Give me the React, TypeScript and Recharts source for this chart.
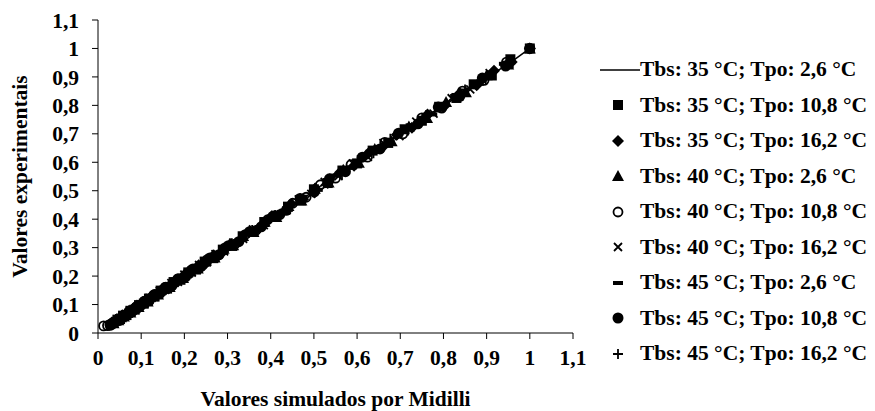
import { ScatterChart, Scatter, XAxis, YAxis, Legend } from 'recharts'

const FONT = '"Liberation Serif", "Times New Roman", serif'
const FS = 21.5

// axis ticks (0 .. 1,1)
const ticks = [0, 0.1, 0.2, 0.3, 0.4, 0.5, 0.6, 0.7, 0.8, 0.9, 1, 1.1]

const s35_26: [number, number][] = [
  [1, 1], [0.962, 0.958], [0.925, 0.921], [0.889, 0.886], [0.846, 0.851], [0.806, 0.802], [0.768, 0.771],
  [0.731, 0.727], [0.694, 0.699], [0.66, 0.655], [0.627, 0.631], [0.594, 0.59], [0.563, 0.566], [0.534, 0.529],
  [0.505, 0.509], [0.478, 0.474], [0.452, 0.455], [0.427, 0.423], [0.403, 0.407], [0.38, 0.376], [0.358, 0.361],
  [0.337, 0.333], [0.317, 0.32], [0.298, 0.294], [0.28, 0.283], [0.262, 0.258], [0.246, 0.249], [0.23, 0.226],
  [0.215, 0.218], [0.2, 0.197], [0.187, 0.19], [0.174, 0.17], [0.161, 0.164], [0.149, 0.146], [0.138, 0.141],
  [0.127, 0.124], [0.117, 0.12], [0.107, 0.104], [0.098, 0.101], [0.089, 0.086], [0.081, 0.083], [0.073, 0.07],
  [0.066, 0.068], [0.059, 0.057], [0.053, 0.055], [0.047, 0.045], [0.042, 0.043],
]
const s35_108: [number, number][] = [
  [1, 1], [0.955, 0.962], [0.912, 0.905], [0.87, 0.874], [0.83, 0.826], [0.79, 0.795], [0.75, 0.746],
  [0.71, 0.716], [0.672, 0.668], [0.636, 0.641], [0.6, 0.596], [0.566, 0.571], [0.532, 0.527], [0.5, 0.505],
  [0.47, 0.466], [0.44, 0.444], [0.412, 0.408], [0.385, 0.39], [0.36, 0.355], [0.335, 0.34], [0.311, 0.306],
  [0.289, 0.293], [0.267, 0.263], [0.247, 0.251], [0.227, 0.223], [0.209, 0.213], [0.191, 0.187], [0.175, 0.179],
  [0.16, 0.156], [0.145, 0.149], [0.131, 0.128], [0.118, 0.121], [0.106, 0.103], [0.095, 0.098], [0.085, 0.082],
  [0.075, 0.078], [0.066, 0.063], [0.058, 0.061], [0.051, 0.049], [0.045, 0.047],
]
const s35_162: [number, number][] = [
  [1, 1], [0.958, 0.952], [0.917, 0.922], [0.877, 0.871], [0.838, 0.843], [0.8, 0.794], [0.763, 0.768],
  [0.727, 0.721], [0.692, 0.697], [0.658, 0.652], [0.625, 0.63], [0.593, 0.588], [0.562, 0.567], [0.532, 0.527],
  [0.503, 0.508], [0.475, 0.47], [0.448, 0.453], [0.422, 0.417], [0.397, 0.402], [0.373, 0.368], [0.35, 0.355],
  [0.328, 0.323], [0.307, 0.312], [0.287, 0.282], [0.268, 0.273], [0.25, 0.245], [0.233, 0.238], [0.216, 0.212],
  [0.2, 0.205], [0.185, 0.181], [0.171, 0.175], [0.157, 0.153], [0.144, 0.148], [0.132, 0.128], [0.12, 0.124],
  [0.109, 0.106], [0.099, 0.102], [0.089, 0.087], [0.08, 0.083], [0.072, 0.069], [0.064, 0.066], [0.057, 0.055],
  [0.051, 0.053],
]
const s40_26: [number, number][] = [
  [1, 1], [0.95, 0.944], [0.9, 0.906], [0.852, 0.846], [0.806, 0.812], [0.762, 0.756], [0.72, 0.726],
  [0.68, 0.674], [0.641, 0.647], [0.604, 0.598], [0.568, 0.574], [0.534, 0.529], [0.502, 0.507], [0.471, 0.466],
  [0.441, 0.446], [0.413, 0.408], [0.386, 0.391], [0.36, 0.355], [0.336, 0.341], [0.313, 0.308], [0.291, 0.296],
  [0.27, 0.265], [0.25, 0.255], [0.231, 0.227], [0.214, 0.218], [0.197, 0.193], [0.181, 0.185], [0.166, 0.162],
  [0.152, 0.156], [0.139, 0.135], [0.126, 0.13], [0.115, 0.111], [0.104, 0.107], [0.094, 0.091], [0.084, 0.087],
  [0.075, 0.072], [0.067, 0.07], [0.06, 0.058], [0.053, 0.055], [0.047, 0.045], [0.041, 0.043], [0.036, 0.034],
]
const s40_108: [number, number][] = [
  [1, 1], [0.946, 0.952], [0.894, 0.888], [0.844, 0.85], [0.796, 0.79], [0.75, 0.756], [0.706, 0.7],
  [0.664, 0.67], [0.624, 0.618], [0.586, 0.592], [0.55, 0.544], [0.515, 0.521], [0.482, 0.477], [0.451, 0.456],
  [0.421, 0.416], [0.393, 0.398], [0.366, 0.361], [0.341, 0.346], [0.317, 0.312], [0.294, 0.299], [0.273, 0.268],
  [0.253, 0.258], [0.234, 0.229], [0.216, 0.221], [0.2, 0.195], [0.184, 0.189], [0.169, 0.165], [0.155, 0.16],
  [0.142, 0.138], [0.13, 0.134], [0.118, 0.115], [0.107, 0.111], [0.097, 0.094], [0.088, 0.091], [0.079, 0.076],
  [0.071, 0.074], [0.063, 0.061], [0.056, 0.059], [0.05, 0.048], [0.044, 0.046], [0.038, 0.036], [0.033, 0.035],
  [0.028, 0.027], [0.022, 0.026], [0.013, 0.025],
]
const s40_162: [number, number][] = [
  [1, 1], [0.953, 0.947], [0.907, 0.913], [0.862, 0.856], [0.819, 0.825], [0.777, 0.771], [0.737, 0.743],
  [0.698, 0.692], [0.661, 0.667], [0.625, 0.619], [0.59, 0.596], [0.557, 0.551], [0.525, 0.531], [0.494, 0.489],
  [0.465, 0.47], [0.437, 0.432], [0.41, 0.415], [0.384, 0.379], [0.359, 0.364], [0.336, 0.331], [0.313, 0.318],
  [0.292, 0.287], [0.272, 0.277], [0.252, 0.248], [0.234, 0.239], [0.217, 0.212], [0.2, 0.205], [0.185, 0.18],
  [0.17, 0.175], [0.156, 0.152], [0.143, 0.147], [0.131, 0.127], [0.119, 0.123], [0.108, 0.105], [0.098, 0.101],
  [0.089, 0.086], [0.08, 0.083], [0.072, 0.069], [0.064, 0.067], [0.057, 0.055], [0.051, 0.053], [0.045, 0.043],
  [0.04, 0.042],
]
const s45_26: [number, number][] = [
  [1, 1], [0.94, 0.946], [0.882, 0.876], [0.827, 0.833], [0.774, 0.768], [0.724, 0.73], [0.676, 0.67],
  [0.631, 0.637], [0.588, 0.582], [0.547, 0.553], [0.509, 0.503], [0.473, 0.479], [0.439, 0.434], [0.407, 0.412],
  [0.377, 0.372], [0.349, 0.354], [0.322, 0.317], [0.297, 0.302], [0.274, 0.269], [0.252, 0.257], [0.232, 0.227],
  [0.213, 0.218], [0.195, 0.191], [0.179, 0.183], [0.164, 0.16], [0.15, 0.154], [0.137, 0.133], [0.125, 0.129],
  [0.114, 0.11], [0.103, 0.107], [0.094, 0.091], [0.085, 0.088], [0.077, 0.074], [0.069, 0.072], [0.062, 0.06],
  [0.056, 0.058], [0.05, 0.048], [0.045, 0.047], [0.04, 0.038], [0.035, 0.037], [0.031, 0.03],
]
const s45_108: [number, number][] = [
  [1, 1], [0.944, 0.938], [0.89, 0.896], [0.838, 0.832], [0.788, 0.794], [0.741, 0.735], [0.696, 0.702],
  [0.653, 0.647], [0.612, 0.618], [0.573, 0.567], [0.536, 0.542], [0.501, 0.496], [0.468, 0.473], [0.436, 0.431],
  [0.406, 0.411], [0.378, 0.373], [0.351, 0.356], [0.326, 0.321], [0.302, 0.307], [0.28, 0.275], [0.259, 0.264],
  [0.239, 0.234], [0.22, 0.225], [0.203, 0.198], [0.186, 0.191], [0.171, 0.166], [0.157, 0.161], [0.143, 0.139],
  [0.131, 0.135], [0.119, 0.115], [0.108, 0.112], [0.098, 0.095], [0.089, 0.092], [0.08, 0.077], [0.072, 0.075],
  [0.065, 0.062], [0.058, 0.061], [0.052, 0.05], [0.046, 0.048], [0.041, 0.039], [0.036, 0.038], [0.032, 0.03],
  [0.028, 0.03],
]
const s45_162: [number, number][] = [
  [1, 1], [0.948, 0.954], [0.898, 0.892], [0.85, 0.856], [0.804, 0.798], [0.76, 0.766], [0.718, 0.712],
  [0.677, 0.683], [0.638, 0.632], [0.601, 0.607], [0.565, 0.559], [0.531, 0.537], [0.499, 0.494], [0.468, 0.473],
  [0.438, 0.433], [0.41, 0.415], [0.383, 0.378], [0.357, 0.362], [0.333, 0.328], [0.31, 0.315], [0.288, 0.283],
  [0.267, 0.272], [0.247, 0.243], [0.229, 0.233], [0.211, 0.207], [0.195, 0.199], [0.179, 0.175], [0.165, 0.169],
  [0.151, 0.147], [0.138, 0.142], [0.126, 0.122], [0.115, 0.118], [0.104, 0.101], [0.094, 0.097], [0.085, 0.082],
  [0.077, 0.08], [0.069, 0.067], [0.062, 0.065], [0.056, 0.054], [0.05, 0.052], [0.045, 0.043], [0.04, 0.042],
]

const seriesNames = [
  'Tbs: 35 °C; Tpo: 2,6 °C',
  'Tbs: 35 °C; Tpo: 10,8 °C',
  'Tbs: 35 °C; Tpo: 16,2 °C',
  'Tbs: 40 °C; Tpo: 2,6 °C',
  'Tbs: 40 °C; Tpo: 10,8 °C',
  'Tbs: 40 °C; Tpo: 16,2 °C',
  'Tbs: 45 °C; Tpo: 2,6 °C',
  'Tbs: 45 °C; Tpo: 10,8 °C',
  'Tbs: 45 °C; Tpo: 16,2 °C',
]
const seriesData = [s35_26, s35_108, s35_162, s40_26, s40_108, s40_162, s45_26, s45_108, s45_162]
const markerKinds = ['line', 'square', 'diamond', 'triangle', 'circleOpen', 'x', 'dash', 'circle', 'plus']

const toPoints = (pairs: [number, number][]) => pairs.map(([x, y]) => ({ x, y }))
const fmt = (v: number) => String(v).replace('.', ',')

function Marker({ kind, cx, cy }: { kind: string; cx: number; cy: number }) {
  switch (kind) {
    case 'square':
      return <rect x={cx - 5} y={cy - 5} width={10} height={10} fill="#000" />
    case 'diamond':
      return <polygon points={`${cx},${cy - 6} ${cx + 6},${cy} ${cx},${cy + 6} ${cx - 6},${cy}`} fill="#000" />
    case 'triangle':
      return <polygon points={`${cx},${cy - 6} ${cx + 6},${cy + 5} ${cx - 6},${cy + 5}`} fill="#000" />
    case 'circleOpen':
      return <circle cx={cx} cy={cy} r={4.5} fill="none" stroke="#000" strokeWidth={1.8} />
    case 'x':
      return <path d={`M${cx - 4},${cy - 4}L${cx + 4},${cy + 4}M${cx - 4},${cy + 4}L${cx + 4},${cy - 4}`} stroke="#000" strokeWidth={1.8} />
    case 'dash':
      return <rect x={cx - 5} y={cy - 2} width={10} height={4} fill="#000" />
    case 'circle':
      return <circle cx={cx} cy={cy} r={5.5} fill="#000" />
    case 'plus':
      return <path d={`M${cx - 5},${cy}L${cx + 5},${cy}M${cx},${cy - 5}L${cx},${cy + 5}`} stroke="#000" strokeWidth={1.8} />
    default:
      return <g />
  }
}

function LegendBox() {
  return (
    <div style={{ fontFamily: FONT, fontWeight: 'bold', fontSize: FS, color: '#000' }}>
      {seriesNames.map((name, i) => (
        <div key={name} style={{ display: 'flex', alignItems: 'center', height: 35.5, whiteSpace: 'nowrap' }}>
          <svg width={42} height={20} style={{ flex: 'none' }}>
            {markerKinds[i] === 'line'
              ? <line x1={2} y1={10} x2={42} y2={10} stroke="#000" strokeWidth={1.5} />
              : <Marker kind={markerKinds[i]} cx={20} cy={10} />}
          </svg>
          <span>{name}</span>
        </div>
      ))}
    </div>
  )
}

const textStyle = { fontFamily: FONT, fontWeight: 'bold', fontSize: FS, fill: '#000' }

function YLabel({ viewBox }: any) {
  const cx = 20
  const cy = viewBox.y + viewBox.height / 2
  return (
    <text x={cx} y={cy} transform={`rotate(-90 ${cx} ${cy})`} textAnchor="middle" dominantBaseline="central" style={textStyle}>
      Valores experimentais
    </text>
  )
}

function XLabel({ viewBox }: any) {
  const cx = viewBox.x + viewBox.width / 2
  const cy = viewBox.y + 66
  return (
    <text x={cx} y={cy} textAnchor="middle" dominantBaseline="central" style={textStyle}>
      Valores simulados por Midilli
    </text>
  )
}

export default function App() {
  return (
    <div style={{ position: 'absolute', left: 0, top: 0, width: 875, height: 411, background: '#fff' }}>
      <ScatterChart width={875} height={411} margin={{ top: 20, right: 302, bottom: 0, left: 0 }}>
        <XAxis
          type="number"
          dataKey="x"
          domain={[0, 1.1]}
          ticks={ticks}
          interval={0}
          tickFormatter={fmt}
          tick={textStyle}
          tickSize={6}
          tickMargin={11}
          height={78}
          stroke="#000"
          allowDataOverflow
          label={(props: any) => <XLabel {...props} />}
        />
        <YAxis
          type="number"
          dataKey="y"
          domain={[0, 1.1]}
          ticks={ticks}
          interval={0}
          tickFormatter={fmt}
          tick={textStyle}
          tickSize={6}
          tickMargin={13}
          width={98}
          stroke="#000"
          allowDataOverflow
          label={(props: any) => <YLabel {...props} />}
        />
        {seriesData.map((pairs, i) => (
          <Scatter
            key={seriesNames[i]}
            name={seriesNames[i]}
            data={toPoints(pairs)}
            isAnimationActive={false}
            line={markerKinds[i] === 'line' ? { stroke: '#000', strokeWidth: 1.5 } : false}
            shape={(p: any) => <Marker kind={markerKinds[i]} cx={p.cx} cy={p.cy} />}
          />
        ))}
        <Legend
          layout="horizontal"
          align="center"
          verticalAlign="middle"
          content={() => <LegendBox />}
          wrapperStyle={{ left: 598, top: 52, width: 277, height: 'auto' }}
        />
      </ScatterChart>
    </div>
  )
}
